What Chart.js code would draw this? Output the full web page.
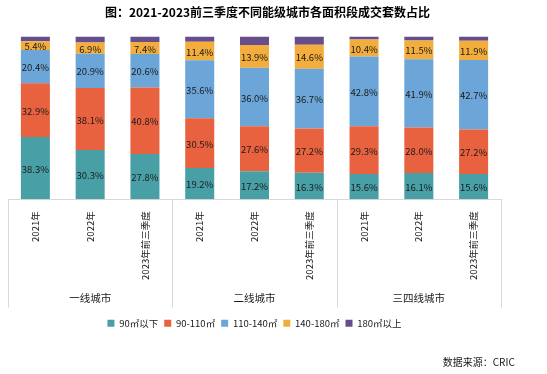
<!DOCTYPE html>
<html>
<head>
<meta charset="utf-8">
<script src="https://cdn.jsdelivr.net/npm/chart.js@4"></script>
<style>
  html, body { margin: 0; padding: 0; background: #fff; }
  #wrap { width: 547px; height: 374px; }
</style>
</head>
<body>
<div id="wrap"><canvas id="areaChart"></canvas></div>
<script>
// 数据
const periods = ["2021年", "2022年", "2023年前三季度", "2021年", "2022年", "2023年前三季度", "2021年", "2022年", "2023年前三季度"];
const cityTiers = ["一线城市", "二线城市", "三四线城市"];
const below90 = [38.3, 30.3, 27.8, 19.2, 17.2, 16.3, 15.6, 16.1, 15.6];
const from90to110 = [32.9, 38.1, 40.8, 30.5, 27.6, 27.2, 29.3, 28.0, 27.2];
const from110to140 = [20.4, 20.9, 20.6, 35.6, 36.0, 36.7, 42.8, 41.9, 42.7];
const from140to180 = [5.4, 6.9, 7.4, 11.4, 13.9, 14.6, 10.4, 11.5, 11.9];
const above180 = [3.0, 3.8, 3.4, 3.3, 5.3, 5.2, 1.9, 2.5, 2.6];

const fontFamily = "'Noto Sans CJK SC', 'Noto Sans', sans-serif";

// 柱内数值标签
const barLabels = {
  id: "barLabels",
  afterDatasetsDraw(chart) {
    const ctx = chart.ctx;
    ctx.save();
    ctx.font = "9.5px " + fontFamily;
    ctx.fillStyle = "#1a1a1a";
    ctx.textAlign = "center";
    ctx.textBaseline = "middle";
    chart.data.datasets.forEach((ds, i) => {
      if (!ds.showLabel) return;
      chart.getDatasetMeta(i).data.forEach((bar, j) => {
        ctx.fillText(ds.data[j].toFixed(1) + "%", bar.x, (bar.y + bar.base) / 2 + 1);
      });
    });
    ctx.restore();
  },
};

// 分组分隔线
const groupLines = {
  id: "groupLines",
  afterDraw(chart) {
    const x = chart.scales.x;
    const x2 = chart.scales.x2;
    const ctx = chart.ctx;
    const top = chart.chartArea.bottom;
    const bottom = x2.bottom - 5;
    const pos = [x.left];
    for (let g = 1; g < cityTiers.length; g++) {
      pos.push((x.getPixelForValue(g * 3 - 1) + x.getPixelForValue(g * 3)) / 2);
    }
    pos.push(x.right);
    ctx.save();
    ctx.strokeStyle = "#d9d9d9";
    ctx.lineWidth = 1;
    pos.forEach((p) => {
      const px = Math.round(p) + 0.5;
      ctx.beginPath();
      ctx.moveTo(px, top);
      ctx.lineTo(px, bottom);
      ctx.stroke();
    });
    ctx.restore();
  },
};

const ctx = document.getElementById("areaChart").getContext("2d");
new Chart(ctx, {
  type: "bar",
  data: {
    labels: periods,
    datasets: [
      { label: "90㎡以下", data: below90, backgroundColor: "#48a0a6", showLabel: true },
      { label: "90-110㎡", data: from90to110, backgroundColor: "#e8623f", showLabel: true },
      { label: "110-140㎡", data: from110to140, backgroundColor: "#6ca6d9", showLabel: true },
      { label: "140-180㎡", data: from140to180, backgroundColor: "#f2ad3c", showLabel: true },
      { label: "180㎡以上", data: above180, backgroundColor: "#664d8c", showLabel: false },
    ],
  },
  options: {
    responsive: true,
    maintainAspectRatio: false,
    animation: false,
    layout: { padding: { left: 8, right: 20, top: 0, bottom: 0 } },
    datasets: { bar: { barPercentage: 0.53, categoryPercentage: 1 } },
    scales: {
      x: {
        stacked: true,
        grid: { display: false },
        border: { color: "#d9d9d9" },
        ticks: {
          minRotation: 90,
          maxRotation: 90,
          autoSkip: false,
          padding: 4,
          color: "#1a1a1a",
          font: { family: fontFamily, size: 9.5 },
        },
      },
      x2: {
        type: "category",
        labels: cityTiers,
        position: "bottom",
        offset: true,
        grid: { display: false },
        border: { display: false },
        ticks: { padding: 0, color: "#1a1a1a", font: { family: fontFamily, size: 10.5 } },
        afterFit: (scale) => { scale.height += 8; },
      },
      y: {
        stacked: true,
        min: 0,
        max: 100,
        position: "right",
        grid: { display: false },
        border: { display: false },
        ticks: { display: false },
        afterFit: (scale) => { scale.width = 26; },
      },
    },
    plugins: {
      title: {
        display: true,
        text: "图：2021-2023前三季度不同能级城市各面积段成交套数占比",
        color: "#000",
        font: { family: fontFamily, size: 12, weight: "bold" },
        padding: { top: 5, bottom: 17 },
      },
      subtitle: {
        display: true,
        position: "bottom",
        align: "end",
        text: "数据来源：CRIC　 ",
        color: "#1a1a1a",
        font: { family: fontFamily, size: 10 },
        padding: { top: 18, bottom: 6 },
      },
      legend: {
        position: "bottom",
        fullSize: false,
        labels: {
          boxWidth: 7,
          boxHeight: 7,
          padding: 6,
          color: "#1a1a1a",
          font: { family: fontFamily, size: 9.5 },
        },
      },
      tooltip: { enabled: false },
    },
  },
  plugins: [barLabels, groupLines],
});
</script>
</body>
</html>
